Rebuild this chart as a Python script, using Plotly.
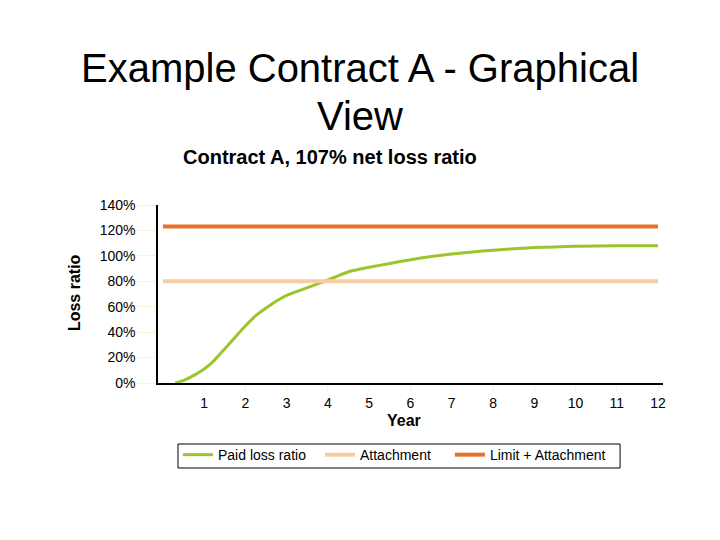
import plotly.graph_objects as go

years = [0.3, 0.5, 0.75, 1.0, 1.25, 1.5, 1.75, 2.0, 2.25, 2.5, 2.75, 3.0, 3.5, 4.0, 4.5, 5.0,
         5.5, 6.0, 6.5, 7.0, 7.5, 8.0, 8.5, 9.0, 9.5, 10.0, 11.0, 12.0]
paid_loss_ratio = [0, 2, 6, 11, 18, 27, 36, 45, 53, 59, 64.5, 69, 75, 81, 87.5, 91,
                   94, 97, 99.5, 101.5, 103, 104.5, 105.5, 106.5, 107, 107.5, 108, 108]
line_years = [0, 12]
attachment = [80, 80]
limit_attachment = [123, 123]
x_ticks = list(range(1, 13))
y_ticks = [0, 20, 40, 60, 80, 100, 120, 140]
y_tick_labels = [f"{v}%" for v in y_ticks]

FONT = "Liberation Sans, Arial, sans-serif"

fig = go.Figure()
fig.add_trace(go.Scatter(x=years, y=paid_loss_ratio, mode="lines", name="Paid loss ratio",
                         legend="legend",
                         line=dict(color="#9cc42c", width=3, shape="spline", smoothing=0.6)))
fig.add_trace(go.Scatter(x=line_years, y=attachment, mode="lines", name="Attachment",
                         legend="legend",
                         line=dict(color="#f8cba2", width=4)))
fig.add_trace(go.Scatter(x=line_years, y=limit_attachment, mode="lines", name="Limit + Attachment",
                         legend="legend2",
                         line=dict(color="#e8702a", width=4)))

legend_common = dict(orientation="h", y=-0.315, yanchor="top", borderwidth=0,
                     font=dict(size=14, family=FONT), bgcolor="rgba(0,0,0,0)")

fig.update_layout(
    width=712, height=532,
    paper_bgcolor="white", plot_bgcolor="white",
    margin=dict(l=150, r=57, t=197, b=157),
    font=dict(family=FONT, color="black", size=14),
    showlegend=True,
    legend=dict(x=0.0396, xanchor="left", entrywidth=97, entrywidthmode="pixels", **legend_common),
    legend2=dict(x=0.578, xanchor="left", **legend_common),
    shapes=[dict(type="rect", xref="paper", yref="paper", x0=0.0396, x1=0.915,
                 y0=-0.4775, y1=-0.3427, line=dict(color="black", width=1),
                 fillcolor="rgba(0,0,0,0)", layer="below")],
    xaxis=dict(range=[-0.12, 12.12], tickvals=x_ticks, showgrid=False, zeroline=False,
               showline=True, linecolor="black", linewidth=1.5,
               ticks="outside", ticklen=6, tickcolor="#f4f4dc",
               tickfont=dict(size=14, family=FONT)),
    yaxis=dict(range=[0, 140], tickvals=y_ticks, ticktext=y_tick_labels, showgrid=False,
               zeroline=False, showline=True, linecolor="black", linewidth=1.5,
               ticks="outside", ticklen=18, tickcolor="#f4f4dc",
               tickfont=dict(size=14, family=FONT)),
    annotations=[
        dict(text="Example Contract A - Graphical", xref="paper", yref="paper",
             x=0.4, y=1.77, xanchor="center", yanchor="middle", showarrow=False,
             font=dict(size=40, family=FONT)),
        dict(text="View", xref="paper", yref="paper",
             x=0.4, y=1.5, xanchor="center", yanchor="middle", showarrow=False,
             font=dict(size=40, family=FONT)),
        dict(text="<b>Contract A, 107% net loss ratio</b>", xref="paper", yref="paper",
             x=0.34, y=1.27, xanchor="center", yanchor="middle", showarrow=False,
             font=dict(size=20, family=FONT)),
        dict(text="<b>Loss ratio</b>", xref="paper", yref="paper", x=-0.164, y=0.506,
             xanchor="center", yanchor="middle", textangle=-90, showarrow=False,
             font=dict(size=16, family=FONT)),
        dict(text="<b>Year</b>", xref="paper", yref="paper", x=0.487, y=-0.213,
             xanchor="center", yanchor="middle", showarrow=False,
             font=dict(size=16, family=FONT)),
    ],
)

fig.write_html("out.html")
